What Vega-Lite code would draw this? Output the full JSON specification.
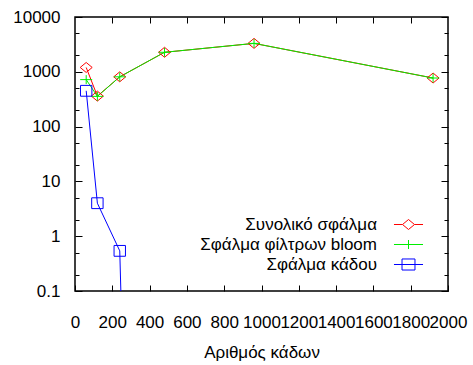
{
  "$schema": "https://vega.github.io/schema/vega-lite/v6.json",
  "width": 373,
  "height": 274,
  "autosize": {"type": "none"},
  "padding": {"left": 75, "top": 17, "right": 25, "bottom": 74},
  "background": "white",
  "config": {
    "view": {"stroke": "#000", "strokeWidth": 1.5},
    "font": "Liberation Sans",
    "axis": {
      "labelFont": "Liberation Sans",
      "labelFontSize": 17,
      "labelColor": "#000",
      "tickColor": "#000",
      "tickWidth": 1,
      "titleFont": "Liberation Sans",
      "titleFontSize": 17,
      "titleFontWeight": "normal",
      "titleColor": "#000",
      "domain": false,
      "grid": false
    },
    "legend": {
      "labelFont": "Liberation Sans",
      "labelFontSize": 17,
      "labelColor": "#000"
    }
  },
  "data": {
    "values": [
      {"n": 60, "series": "Συνολικό σφάλμα", "err": 1200},
      {"n": 120, "series": "Συνολικό σφάλμα", "err": 360},
      {"n": 240, "series": "Συνολικό σφάλμα", "err": 810},
      {"n": 480, "series": "Συνολικό σφάλμα", "err": 2270},
      {"n": 960, "series": "Συνολικό σφάλμα", "err": 3300},
      {"n": 1920, "series": "Συνολικό σφάλμα", "err": 770},
      {"n": 60, "series": "Σφάλμα φίλτρων bloom", "err": 720},
      {"n": 120, "series": "Σφάλμα φίλτρων bloom", "err": 356},
      {"n": 240, "series": "Σφάλμα φίλτρων bloom", "err": 810},
      {"n": 480, "series": "Σφάλμα φίλτρων bloom", "err": 2270},
      {"n": 960, "series": "Σφάλμα φίλτρων bloom", "err": 3300},
      {"n": 1920, "series": "Σφάλμα φίλτρων bloom", "err": 770},
      {"n": 60, "series": "Σφάλμα κάδου", "err": 450},
      {"n": 120, "series": "Σφάλμα κάδου", "err": 4},
      {"n": 240, "series": "Σφάλμα κάδου", "err": 0.54},
      {"n": 480, "series": "Σφάλμα κάδου", "err": 1e-30},
      {"n": 960, "series": "Σφάλμα κάδου", "err": 1e-30},
      {"n": 1920, "series": "Σφάλμα κάδου", "err": 1e-30}
    ]
  },
  "layer": [
    {
      "mark": {"type": "line", "clip": true, "strokeWidth": 1},
      "encoding": {
        "x": {
          "field": "n", "type": "quantitative",
          "scale": {"domain": [0, 2000], "nice": false, "zero": false},
          "axis": {
            "values": [0, 200, 400, 600, 800, 1000, 1200, 1400, 1600, 1800, 2000],
            "format": "d",
            "tickSize": -6,
            "labelPadding": 29,
            "labelFlush": false,
            "labelOverlap": false,
            "title": "Αριθμός κάδων",
            "titlePadding": 14
          }
        },
        "y": {
          "field": "err", "type": "quantitative",
          "scale": {"type": "log", "domain": [0.1, 10000], "nice": false},
          "axis": {
            "values": [0.1, 0.2, 0.5, 1, 2, 5, 10, 20, 50, 100, 200, 500, 1000, 2000, 5000, 10000],
            "tickSize": {"condition": {"test": "abs(log(datum.value)/LN10 - round(log(datum.value)/LN10)) < 0.001", "value": -7}, "value": -4},
            "labelExpr": "abs(log(datum.value)/LN10 - round(log(datum.value)/LN10)) < 0.001 ? format(datum.value, '~g') : ''",
            "labelPadding": 22,
            "labelOverlap": false,
            "labelFlush": false,
            "title": null
          }
        },
        "color": {
          "field": "series", "type": "nominal",
          "scale": {"domain": ["Συνολικό σφάλμα", "Σφάλμα φίλτρων bloom", "Σφάλμα κάδου"], "range": ["#ff0000", "#00ee00", "#0000ff"]},
          "legend": null
        }
      }
    },
    {
      "mark": {"type": "point", "clip": true, "filled": false, "strokeWidth": 1, "size": 144, "opacity": 1},
      "encoding": {
        "x": {"field": "n", "type": "quantitative", "axis": null},
        "y": {"field": "err", "type": "quantitative", "axis": null},
        "color": {
          "field": "series", "type": "nominal",
          "scale": {"domain": ["Συνολικό σφάλμα", "Σφάλμα φίλτρων bloom", "Σφάλμα κάδου"], "range": ["#ff0000", "#00ee00", "#0000ff"]},
          "legend": null
        },
        "shape": {
          "field": "series", "type": "nominal",
          "scale": {"domain": ["Συνολικό σφάλμα", "Σφάλμα φίλτρων bloom", "Σφάλμα κάδου"], "range": ["M-1,0L0,-0.83L1,0L0,0.83Z", "M-1,0L1,0M0,-0.75L0,0.75", "M-0.95,-0.9L0.95,-0.9L0.95,0.9L-0.95,0.9Z"]},
          "legend": null
        }
      }
    },
    {
      "mark": {"type": "point", "clip": true, "filled": false, "strokeWidth": 1, "size": 144, "opacity": 0},
      "encoding": {
        "x": {"field": "n", "type": "quantitative", "axis": null},
        "y": {"field": "err", "type": "quantitative", "axis": null},
        "color": {
          "field": "series", "type": "nominal",
          "scale": {"domain": ["Συνολικό σφάλμα", "Σφάλμα φίλτρων bloom", "Σφάλμα κάδου"], "range": ["#ff0000", "#00ee00", "#0000ff"]},
          "legend": {"orient": "none", "legendX": 325, "legendY": 199, "title": null, "padding": 0, "symbolSize": 144, "symbolOpacity": 1, "symbolStrokeWidth": 1, "labelAlign": "right", "labelOffset": -40, "rowPadding": 2, "labelLimit": 400}
        },
        "shape": {
          "field": "series", "type": "nominal",
          "scale": {"domain": ["Συνολικό σφάλμα", "Σφάλμα φίλτρων bloom", "Σφάλμα κάδου"], "range": ["M-2.42,0L-1,0M1,0L2.42,0M-1,0L0,-0.83L1,0L0,0.83Z", "M-2.42,0L2.42,0M0,-0.75L0,0.75", "M-2.42,0L2.42,0M-1.08,-0.92L1.08,-0.92L1.08,0.92L-1.08,0.92Z"]},
          "legend": {"orient": "none", "legendX": 325, "legendY": 199, "title": null, "padding": 0, "symbolSize": 144, "symbolOpacity": 1, "symbolStrokeWidth": 1, "labelAlign": "right", "labelOffset": -40, "rowPadding": 2, "labelLimit": 400}
        }
      }
    },
    {
      "mark": {"type": "point", "clip": true, "opacity": 0},
      "encoding": {
        "x": {
          "field": "n", "type": "quantitative",
          "axis": {"orient": "top", "values": [200, 400, 600, 800, 1000, 1200, 1400, 1600, 1800], "tickSize": -6, "labels": false, "title": null}
        },
        "y": {
          "field": "err", "type": "quantitative",
          "axis": {
            "orient": "right",
            "values": [0.1, 0.2, 0.5, 1, 2, 5, 10, 20, 50, 100, 200, 500, 1000, 2000, 5000, 10000],
            "tickSize": {"condition": {"test": "abs(log(datum.value)/LN10 - round(log(datum.value)/LN10)) < 0.001", "value": -7}, "value": -4},
            "labels": false,
            "title": null
          }
        }
      }
    }
  ],
  "resolve": {
    "scale": {"color": "independent", "shape": "independent"},
    "axis": {"x": "independent", "y": "independent"}
  }
}
